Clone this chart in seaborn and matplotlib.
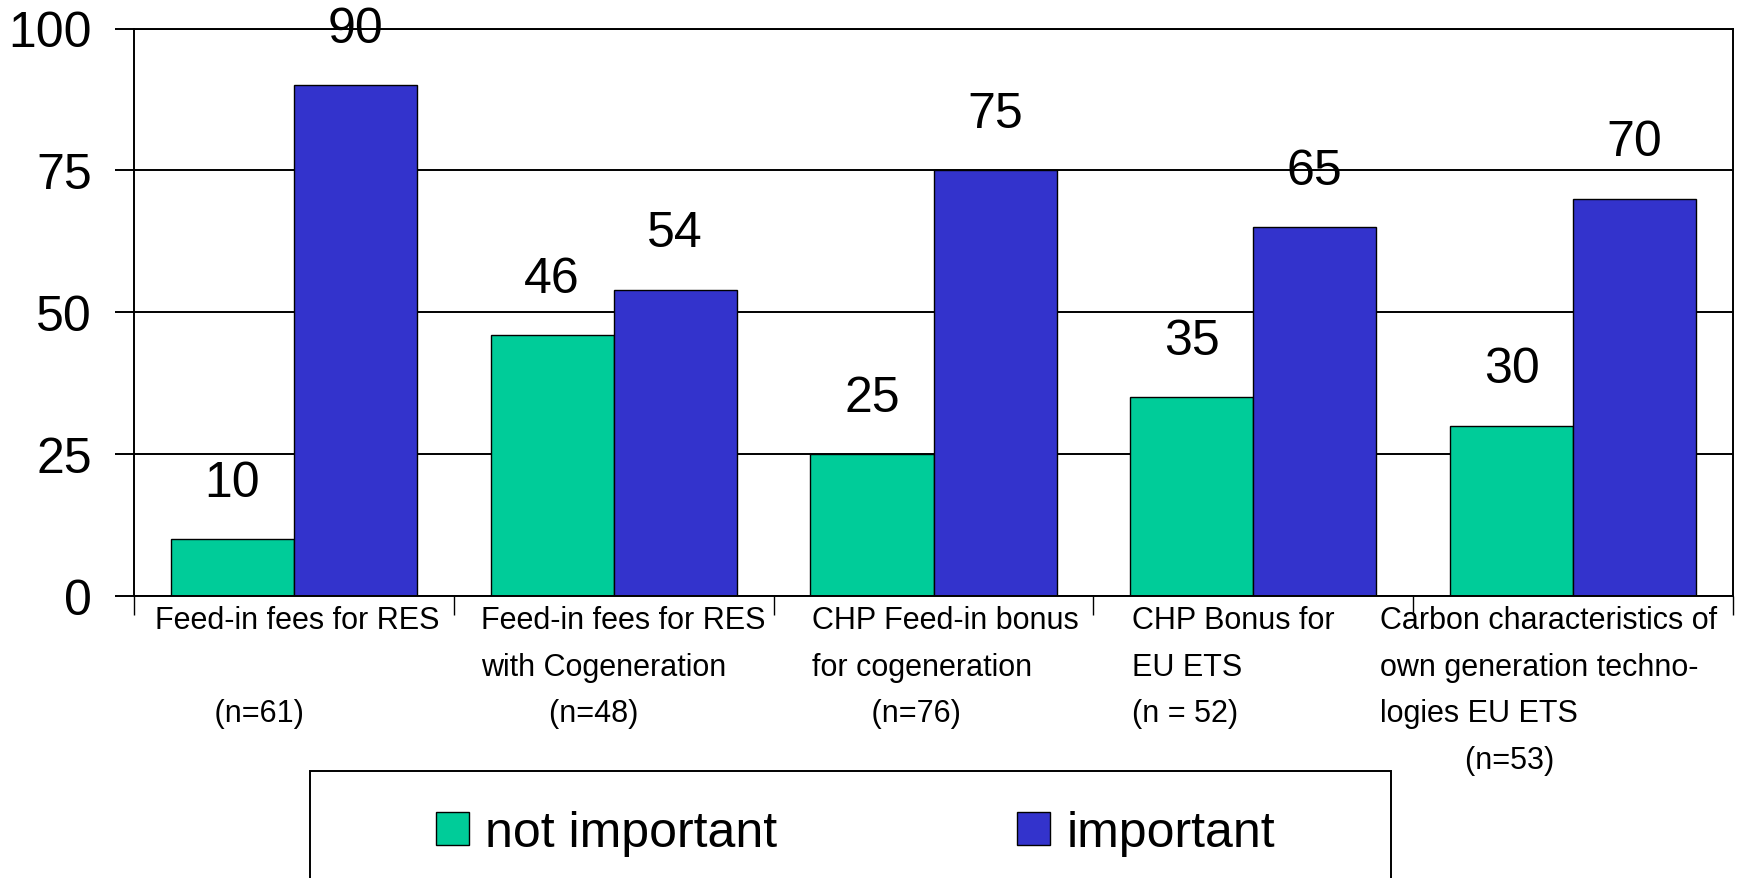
import matplotlib
matplotlib.use("Agg")
import matplotlib.pyplot as plt
from matplotlib.patches import Patch, Rectangle
from matplotlib.transforms import ScaledTranslation
import pandas as pd
import seaborn as sns

# chart data
categories = [
    "Feed-in fees for RES",
    "Feed-in fees for RES\nwith Cogeneration",
    "CHP Feed-in bonus\nfor cogeneration",
    "CHP Bonus for\nEU ETS",
    "Carbon characteristics of\nown generation techno-\nlogies EU ETS",
]
sample_sizes = ["(n=61)", "(n=48)", "(n=76)", "(n = 52)", "(n=53)"]
groups = ["not important", "important"]
not_important = [10, 46, 25, 35, 30]
important = [90, 54, 75, 65, 70]
y_ticks = [0, 25, 50, 75, 100]

colors = ["#00CC99", "#3333CC"]
n_indent = [7, 8, 7, 0, 10]       # leading spaces before the (n=..) line
label_dx = [3, 10, 12, -20, -25]  # pixel nudges of the category label blocks

plt.rcParams["font.family"] = ["Liberation Sans", "DejaVu Sans"]

df = pd.DataFrame({
    "category": categories * 2,
    "group": [groups[0]] * len(categories) + [groups[1]] * len(categories),
    "value": not_important + important,
})

W, H = 1738, 879
fig = plt.figure(figsize=(W / 100, H / 100), dpi=100)
ax = fig.add_axes([134 / W, 1 - 597 / H, (1733 - 134) / W, (597 - 29.5) / H])

sns.barplot(data=df, x="category", y="value", hue="group", hue_order=groups,
            palette=colors, saturation=1, width=0.77, edgecolor="black",
            linewidth=1.0, legend=False, ax=ax)

# value labels above bars
for cont in ax.containers:
    ax.bar_label(cont, padding=24, fontsize=36)

ax.set_xlim(-0.5, len(categories) - 0.5)
ax.set_ylim(0, 100)
ax.set_yticks(y_ticks)
ax.yaxis.grid(True, color="black", linewidth=1.4)
ax.set_axisbelow(True)
ax.set_xlabel("")
ax.set_ylabel("")
for s in ax.spines.values():
    s.set_color("black")
    s.set_linewidth(1.4)

# category labels with sample size line underneath
tick_labels = []
for name, n, ind in zip(categories, sample_sizes, n_indent):
    lines = name.split("\n")
    while len(lines) < 2:
        lines.append("")
    tick_labels.append("\n".join(lines) + "\n" + " " * ind + n)
ax.set_xticks(range(len(categories)))
ax.set_xticklabels(tick_labels, fontsize=22)
ax.set_xticks([i - 0.5 for i in range(len(categories) + 1)], minor=True)
ax.tick_params(axis="x", which="major", length=0, pad=6.5)
ax.tick_params(axis="x", which="minor", length=14, width=1, color="black")
ax.tick_params(axis="y", length=14, width=1.4, pad=16.5, labelsize=36)
for lbl, dx in zip(ax.get_xticklabels(), label_dx):
    lbl.set_multialignment("left")
    lbl.set_linespacing(1.72)
    lbl.set_transform(lbl.get_transform() + ScaledTranslation(dx / 100, 0, fig.dpi_scale_trans))

# legend
handles = [Patch(facecolor=c, edgecolor="black", linewidth=1.0, label=g)
           for g, c in zip(groups, colors)]
fig.legend(handles=handles, loc="center left", bbox_to_anchor=(436 / W, 1 - 834 / H),
           ncol=2, frameon=False, fontsize=36, handlelength=0.66, handleheight=0.66,
           handletextpad=0.32, columnspacing=4.8, borderpad=0, borderaxespad=0)
fig.add_artist(Rectangle((310 / W, 1 - 886 / H), 1081 / W, 114 / H,
                         transform=fig.transFigure, fill=False,
                         edgecolor="black", linewidth=1.4))

fig.savefig("out.png", dpi=100)
